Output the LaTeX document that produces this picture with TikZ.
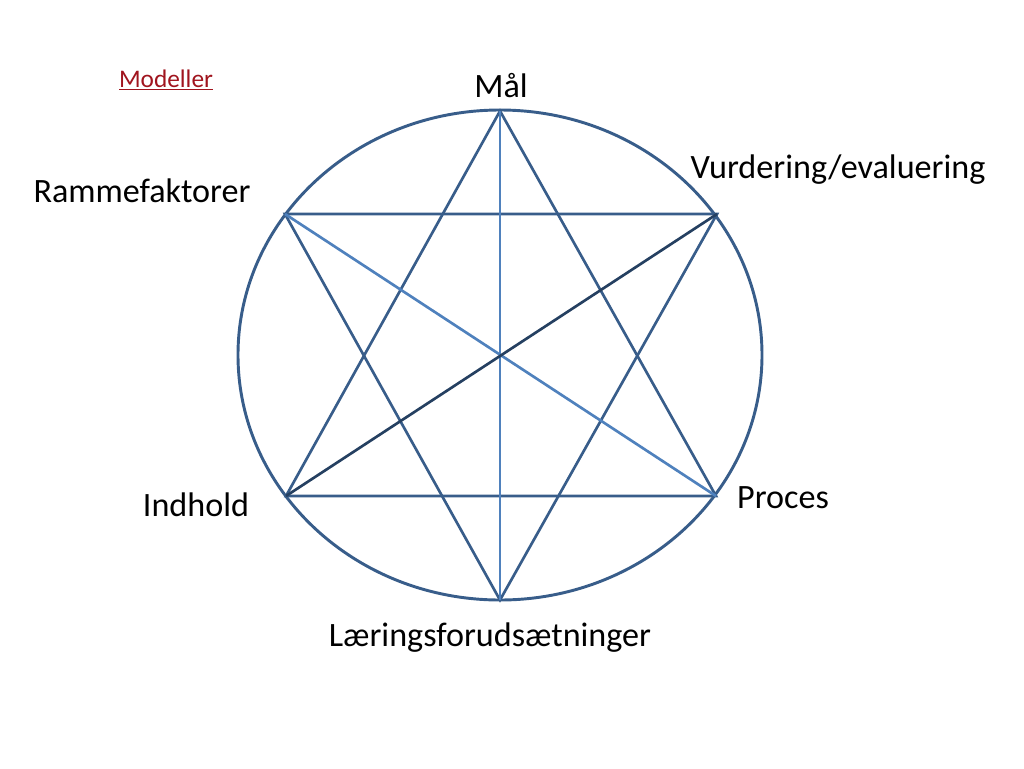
\documentclass[tikz,border=0pt]{standalone}
\usepackage{fontspec}
\setmainfont{Carlito}
\usepackage{tikz}

\begin{document}
\begin{tikzpicture}[x=0.75pt,y=-0.75pt]
  \colorlet{ringblue}{rgb,255:red,56;green,93;blue,138}
  \colorlet{lightblue}{rgb,255:red,79;green,129;blue,189}
  \colorlet{deepblue}{rgb,255:red,37;green,64;blue,97}
  \colorlet{linkred}{rgb,255:red,160;green,20;blue,30}
  \tikzset{
    label/.style={font=\fontsize{25.6}{30}\selectfont, inner sep=0pt},
    edge/.style={ringblue, line width=2pt},
  }
  \useasboundingbox (0,0) rectangle (1024,768);

  %--- ring and its six points ---
  \draw[ringblue, line width=2.2pt] (500,355) ellipse [x radius=262, y radius=245];
  \coordinate (maal)  at (500,111);
  \coordinate (vurd)  at (717,214);
  \coordinate (proc)  at (716,496);
  \coordinate (laer)  at (500,600);
  \coordinate (indh)  at (286,496);
  \coordinate (ramme) at (285,214);

  %--- two triangles ---
  \draw[edge] (maal) -- (indh) -- (proc) -- cycle;
  \draw[edge] (laer) -- (ramme) -- (vurd) -- cycle;

  %--- diagonals ---
  \draw[lightblue, line width=2pt] (maal) -- (laer);
  \draw[lightblue, line width=2pt] (ramme) -- (proc);
  \draw[deepblue, line width=2pt] (vurd) -- (indh);

  %--- labels ---
  \node[label] (tmaal)  at (501,86)  {Mål};
  \node[label] (tvurd)  at (838,170) {Vurdering/evaluering};
  \node[label] (tramme) at (142,191) {Rammefaktorer};
  \node[label] (tindh)  at (196,505) {Indhold};
  \node[label] (tproc)  at (783,498) {Proces};
  \node[label] (tlaer)  at (490,638) {Læringsforudsætninger};
  \node[font=\fontsize{19}{22}\selectfont, text=linkred, inner sep=0pt] (tmod) at (166,80) {\underline{Modeller}};
\end{tikzpicture}
\end{document}
